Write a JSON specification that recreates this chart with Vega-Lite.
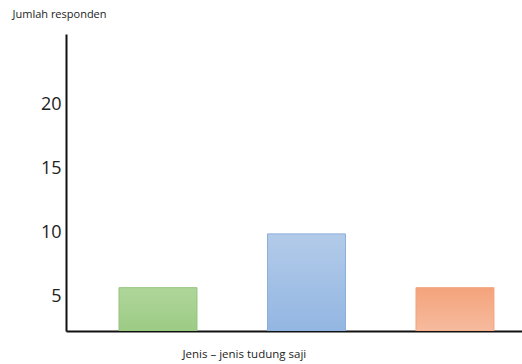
{
  "$schema": "https://vega.github.io/schema/vega-lite/v6.json",
  "width": 456,
  "height": 297,
  "padding": {"left": 66, "top": 34, "right": 0, "bottom": 33},
  "autosize": {"type": "none"},
  "background": "white",
  "config": {"view": {"stroke": null}, "font": "Open Sans"},
  "data": {"values": [
    {"jenis": "A", "jumlah": 5.7},
    {"jenis": "B", "jumlah": 9.9},
    {"jenis": "C", "jumlah": 5.7}
  ]},
  "encoding": {
    "x": {
      "field": "jenis", "type": "nominal", "sort": null,
      "scale": {"paddingInner": 0.475, "paddingOuter": 0.273, "align": 0.654},
      "axis": {
        "title": "Jenis – jenis tudung saji",
        "titleFont": "Open Sans", "titleFontSize": 11.5, "titleFontWeight": "normal", "titleColor": "#222",
        "titleAnchor": "start", "titleAlign": "left", "titleX": 116, "titleY": 26, "titleBaseline": "alphabetic",
        "labels": false, "ticks": false,
        "domainColor": "#111", "domainWidth": 2
      }
    },
    "y": {
      "field": "jumlah", "type": "quantitative",
      "scale": {"domain": [2.32, 25.5], "zero": false, "nice": false},
      "axis": {
        "values": [5, 10, 15, 20],
        "title": "Jumlah responden",
        "titleFont": "Open Sans", "titleFontSize": 11, "titleFontWeight": "normal", "titleColor": "#222",
        "titleAngle": 0, "titleAnchor": "start", "titleAlign": "left", "titleBaseline": "middle",
        "titleX": -54, "titleY": -20,
        "ticks": false, "grid": false,
        "labelFont": "Open Sans", "labelFontSize": 18, "labelColor": "#222", "labelPadding": 5,
        "domainColor": "#111", "domainWidth": 2
      }
    },
    "y2": {"datum": 2.32}
  },
  "layer": [
    {
      "transform": [{"filter": "datum.jenis === 'A'"}],
      "mark": {"type": "bar", "clip": true, "strokeWidth": 1, "stroke": "#92c47a",
        "color": {"gradient": "linear", "x1": 0, "y1": 0, "x2": 0, "y2": 1,
          "stops": [{"offset": 0, "color": "#b0d69b"}, {"offset": 1, "color": "#9ccb84"}]}}
    },
    {
      "transform": [{"filter": "datum.jenis === 'B'"}],
      "mark": {"type": "bar", "clip": true, "strokeWidth": 1, "stroke": "#8caedb",
        "color": {"gradient": "linear", "x1": 0, "y1": 0, "x2": 0, "y2": 1,
          "stops": [{"offset": 0, "color": "#b3cbe9"}, {"offset": 1, "color": "#93b6e2"}]}}
    },
    {
      "transform": [{"filter": "datum.jenis === 'C'"}],
      "mark": {"type": "bar", "clip": true, "strokeWidth": 1, "stroke": "#f2a27c",
        "color": {"gradient": "linear", "x1": 0, "y1": 0, "x2": 0, "y2": 1,
          "stops": [{"offset": 0, "color": "#f4a37b"}, {"offset": 1, "color": "#f6bb9e"}]}}
    }
  ]
}
